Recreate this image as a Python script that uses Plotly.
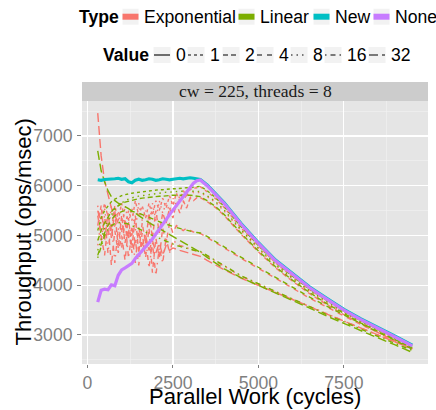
import plotly.graph_objects as go

# ---------------- data ----------------
X = [300, 400, 500, 600, 700, 800, 900, 1000, 1100, 1200, 1300, 1400, 1500, 1600, 1700,
     1800, 1900, 2000, 2100, 2200, 2300, 2400, 2500, 2600, 2700, 2800, 2900, 3000, 3100, 3200,
     3300, 3500, 3750, 4000, 4500, 5000, 5500, 6000, 6500, 7000, 7500, 8000, 8500, 9000, 9500]

TYPES = ["Exponential", "Linear", "New", "None"]
VALUES = ["0", "1", "2", "4", "8", "16", "32"]

exp_1 = [5500, 5300, 5650, 5400, 5100, 5600, 5300, 5650, 5200, 5500, 5300, 5700, 5400, 5600, 5350,
         5650, 5400, 5700, 5500, 5750, 5550, 5800, 5600, 5850, 5700, 5900, 5800, 5920, 5950, 5960,
         5980, 5880, 5740, 5560, 5150, 4790, 4450, 4170, 3910, 3690, 3470, 3280, 3110, 2940, 2760]
exp_2 = [5200, 5600, 4900, 5450, 4950, 5500, 4750, 5400, 4850, 5350, 4750, 5400, 4650, 5250, 4850,
         5450, 4950, 5500, 5050, 5450, 5250, 5550, 5350, 5650, 5450, 5700, 5550, 5750, 5700, 5760,
         5760, 5680, 5560, 5400, 5020, 4670, 4350, 4080, 3830, 3610, 3410, 3220, 3050, 2880, 2730]
exp_4 = [5400, 5000, 4600, 5250, 4400, 5100, 4650, 5000, 4500, 5150, 4650, 4900, 4400, 5050, 4550,
         5150, 4250, 4950, 4550, 5150, 4850, 5250, 5050, 5200, 5150, 5100, 5150, 5100, 5070, 5060,
         5040, 4960, 4860, 4750, 4540, 4340, 4130, 3930, 3740, 3560, 3380, 3210, 3050, 2880, 2730]
exp_8 = [4800, 5300, 5550, 5000, 5600, 5150, 5500, 5050, 5600, 5250, 5550, 5100, 5650, 5300, 5500,
         5200, 5650, 5300, 5700, 5450, 5650, 5500, 5750, 5600, 5800, 5650, 5850, 5750, 5870, 5860,
         5860, 5780, 5660, 5490, 5090, 4730, 4400, 4120, 3870, 3650, 3440, 3250, 3080, 2910, 2750]
exp_16 = [5600, 4900, 5400, 4650, 5250, 4450, 5150, 4750, 5300, 4550, 5050, 4450, 5200, 4650, 4950,
          4350, 4850, 4200, 4750, 4450, 4950, 4650, 4900, 4850, 4800, 4780, 4750, 4720, 4700, 4690,
          4670, 4590, 4480, 4380, 4180, 4020, 3870, 3720, 3570, 3420, 3280, 3140, 3000, 2860, 2720]
exp_32 = [7460, 6600, 6100, 5800, 5550, 5400, 5250, 5100, 5300, 4950, 5150, 4850, 5050, 4800, 5000,
          4700, 4900, 4650, 4850, 4600, 4800, 4700, 4750, 4720, 4700, 4680, 4660, 4640, 4620, 4600,
          4580, 4500, 4400, 4310, 4140, 4000, 3860, 3720, 3570, 3420, 3280, 3140, 3000, 2860, 2720]

lin_1 = [5100, 5350, 5500, 5600, 5680, 5730, 5770, 5800, 5820, 5840, 5850, 5860, 5870, 5880, 5890,
         5900, 5900, 5910, 5920, 5920, 5930, 5930, 5940, 5940, 5950, 5950, 5960, 5960, 5970, 5980,
         5990, 5900, 5760, 5580, 5170, 4800, 4460, 4180, 3920, 3700, 3480, 3290, 3120, 2950, 2770]
lin_2 = [4900, 5100, 5250, 5380, 5480, 5550, 5600, 5640, 5670, 5690, 5710, 5720, 5740, 5750, 5760,
         5770, 5780, 5780, 5790, 5790, 5800, 5800, 5810, 5810, 5810, 5820, 5810, 5810, 5800, 5790,
         5780, 5700, 5580, 5420, 5040, 4690, 4370, 4100, 3850, 3630, 3430, 3240, 3070, 2900, 2740]
lin_4 = [4600, 4850, 5050, 5200, 5320, 5400, 5450, 5480, 5500, 5500, 5490, 5470, 5450, 5420, 5390,
         5360, 5330, 5300, 5280, 5250, 5230, 5200, 5180, 5160, 5140, 5120, 5100, 5090, 5070, 5060,
         5050, 4980, 4880, 4770, 4560, 4360, 4150, 3950, 3760, 3580, 3400, 3230, 3060, 2890, 2720]
lin_8 = [4700, 4950, 5150, 5300, 5420, 5520, 5600, 5660, 5700, 5730, 5760, 5780, 5790, 5800, 5810,
         5830, 5840, 5850, 5850, 5860, 5870, 5870, 5880, 5880, 5890, 5890, 5890, 5900, 5900, 5890,
         5880, 5800, 5680, 5510, 5110, 4750, 4420, 4140, 3890, 3670, 3460, 3270, 3100, 2930, 2760]
lin_16 = [4550, 4800, 5000, 5120, 5200, 5240, 5260, 5260, 5250, 5230, 5200, 5170, 5140, 5100, 5070,
          5030, 5000, 4970, 4940, 4910, 4880, 4850, 4830, 4800, 4780, 4760, 4740, 4720, 4710, 4690,
          4680, 4600, 4490, 4390, 4190, 4030, 3880, 3720, 3570, 3410, 3260, 3110, 2970, 2830, 2690]
lin_32 = [6700, 6300, 6080, 5900, 5780, 5700, 5650, 5620, 5580, 5540, 5500, 5450, 5400, 5350, 5300,
          5260, 5220, 5180, 5140, 5100, 5060, 5020, 4980, 4940, 4900, 4860, 4820, 4780, 4740, 4700,
          4660, 4560, 4440, 4330, 4150, 4000, 3850, 3700, 3540, 3380, 3230, 3090, 2940, 2800, 2650]

new_0 = [6120, 6110, 6125, 6130, 6120, 6140, 6150, 6130, 6140, 6080, 6060, 6110, 6130, 6110, 6120,
         6140, 6130, 6110, 6120, 6140, 6130, 6120, 6130, 6140, 6150, 6140, 6150, 6160, 6150, 6140,
         6125, 6015, 5845, 5655, 5235, 4855, 4505, 4225, 3965, 3735, 3515, 3325, 3155, 2975, 2795]
none_0 = [3660, 3900, 3920, 3910, 4010, 3990, 4200, 4310, 4350, 4390, 4440, 4540, 4620, 4680, 4760,
          4840, 4930, 5030, 5120, 5220, 5320, 5420, 5510, 5600, 5690, 5780, 5880, 5980, 6050, 6100,
          6115, 6000, 5830, 5640, 5220, 4840, 4490, 4210, 3950, 3720, 3500, 3310, 3140, 2960, 2780]

SERIES = [
    ("Exponential", "1", exp_1), ("Exponential", "2", exp_2), ("Exponential", "4", exp_4),
    ("Exponential", "8", exp_8), ("Exponential", "16", exp_16), ("Exponential", "32", exp_32),
    ("Linear", "1", lin_1), ("Linear", "2", lin_2), ("Linear", "4", lin_4),
    ("Linear", "8", lin_8), ("Linear", "16", lin_16), ("Linear", "32", lin_32),
    ("New", "0", new_0), ("None", "0", none_0),
]

X_TICKS = [0, 2500, 5000, 7500]
Y_TICKS = [3000, 4000, 5000, 6000, 7000]
STRIP_LABEL = "cw = 225, threads = 8"

# ---------------- styles ----------------
COLORS = {"Exponential": "#F8766D", "Linear": "#7CAE00", "New": "#00BFC4", "None": "#C77CFF"}
DASHES = {"0": "solid", "1": "3px,3px", "2": "5px,3px", "4": "5px,5px",
          "8": "1.5px,4px", "16": "1.5px,4px,5px,4px", "32": "9px,4px"}
WIDTHS = {"Exponential": 1.4, "Linear": 1.4, "New": 3.2, "None": 3.2}

SANS = "Liberation Sans, Arial, Helvetica, sans-serif"
SERIF = "Liberation Serif, Times New Roman, serif"
GREY50 = "#7F7F7F"

fig = go.Figure()
for typ, val, ys in SERIES:
    fig.add_trace(go.Scatter(
        x=X, y=ys, mode="lines", name=f"{typ} {val}", showlegend=False, hoverinfo="skip",
        line=dict(color=COLORS[typ], width=WIDTHS[typ], dash=DASHES[val]),
    ))

# ---------------- layout geometry (pixels) ----------------
W, H = 436, 410
L, R, T, B = 82, 8, 101, 46
PW, PH = W - L - R, H - T - B


def px(x):
    return (x - L) / PW


def py(y):
    return (H - B - y) / PH


shapes = []
annotations = []

# strip
shapes.append(dict(type="rect", xref="paper", yref="paper", x0=0, x1=1, y0=py(101), y1=py(82),
                   fillcolor="#CCCCCC", line=dict(width=0), layer="below"))
annotations.append(dict(text=STRIP_LABEL, xref="paper", yref="paper", x=0.5, y=py(91.5),
                        xanchor="center", yanchor="middle", showarrow=False,
                        font=dict(family=SERIF, size=17.6, color="#1A1A1A")))

# axis titles
annotations.append(dict(text="Parallel Work (cycles)", xref="paper", yref="paper", x=px(255), y=py(396),
                        xanchor="center", yanchor="middle", showarrow=False,
                        font=dict(family=SANS, size=22, color="black")))
annotations.append(dict(text="Throughput (ops/msec)", xref="paper", yref="paper", x=px(23), y=0.5,
                        xanchor="center", yanchor="middle", showarrow=False, textangle=-90,
                        font=dict(family=SANS, size=22, color="black")))

# legend row 1: Type
row1 = 16.7
annotations.append(dict(text="<b>Type</b>", xref="paper", yref="paper", x=px(77), y=py(row1),
                        xanchor="left", yanchor="middle", showarrow=False,
                        font=dict(family=SANS, size=17.6, color="black")))
type_keys = [122, 238, 313, 373]
for typ, kx in zip(TYPES, type_keys):
    shapes.append(dict(type="rect", xref="paper", yref="paper", x0=px(kx), x1=px(kx + 17),
                       y0=py(row1 + 8.5), y1=py(row1 - 8.5), fillcolor="#F2F2F2",
                       line=dict(color="white", width=1)))
    shapes.append(dict(type="rect", xref="paper", yref="paper", x0=px(kx + 0.5), x1=px(kx + 16.5),
                       y0=py(row1 + 3), y1=py(row1 - 3), fillcolor=COLORS[typ], line=dict(width=0)))
    annotations.append(dict(text=typ, xref="paper", yref="paper", x=px(kx + 19.5), y=py(row1),
                            xanchor="left", yanchor="middle", showarrow=False,
                            font=dict(family=SANS, size=17.6, color="black")))

# legend row 2: Value
row2 = 55
annotations.append(dict(text="<b>Value</b>", xref="paper", yref="paper", x=px(101), y=py(row2),
                        xanchor="left", yanchor="middle", showarrow=False,
                        font=dict(family=SANS, size=17.6, color="black")))
value_keys = [153, 187, 222, 256, 290, 324, 368]
for val, kx in zip(VALUES, value_keys):
    shapes.append(dict(type="rect", xref="paper", yref="paper", x0=px(kx), x1=px(kx + 18),
                       y0=py(row2 + 8.5), y1=py(row2 - 8.5), fillcolor="#F2F2F2",
                       line=dict(color="white", width=1)))
    shapes.append(dict(type="line", xref="paper", yref="paper", x0=px(kx + 1), x1=px(kx + 17),
                       y0=py(row2), y1=py(row2), line=dict(color="black", width=1.1, dash=DASHES[val])))
    annotations.append(dict(text=val, xref="paper", yref="paper", x=px(kx + 21), y=py(row2),
                            xanchor="left", yanchor="middle", showarrow=False,
                            font=dict(family=SANS, size=17.6, color="black")))

axis_common = dict(
    showgrid=True, gridcolor="white", gridwidth=1.2, zeroline=False, showline=False,
    ticks="outside", tickwidth=1, tickcolor=GREY50, automargin=False,
    tickfont=dict(family=SANS, size=17.6, color=GREY50),
)

fig.update_layout(
    template="none",
    width=W, height=H,
    margin=dict(l=L, r=R, t=T, b=B, pad=0, autoexpand=False),
    paper_bgcolor="white", plot_bgcolor="#E5E5E5",
    showlegend=False, hovermode=False,
    xaxis=dict(range=[-160, 9960], tickmode="array", tickvals=X_TICKS,
               ticktext=[str(v) for v in X_TICKS], ticklen=3,
               minor=dict(tickmode="array", tickvals=[1250, 3750, 6250, 8750], showgrid=True,
                          gridcolor="#F2F2F2", gridwidth=0.6, ticks=""),
               **axis_common),
    yaxis=dict(range=[2417, 7703], tickmode="array", tickvals=Y_TICKS,
               ticktext=[str(v) for v in Y_TICKS], ticklen=4, ticklabelstandoff=1,
               minor=dict(tickmode="array", tickvals=[2500, 3500, 4500, 5500, 6500, 7500],
                          showgrid=True, gridcolor="#F2F2F2", gridwidth=0.6, ticks=""),
               **axis_common),
    shapes=shapes,
    annotations=annotations,
)

fig.write_html("out.html", config={"displayModeBar": False, "staticPlot": True},
               post_script="document.body.style.margin='0';document.body.style.padding='0';")
